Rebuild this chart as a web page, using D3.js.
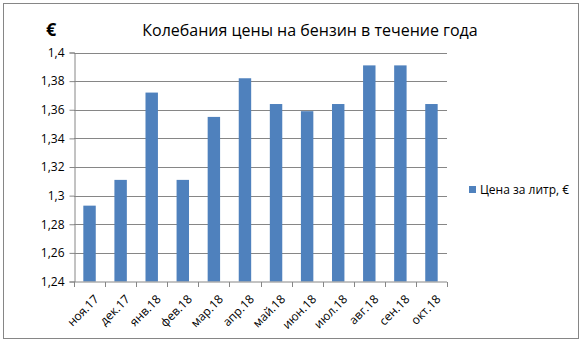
<!DOCTYPE html>
<html>
<head>
<meta charset="utf-8">
<script src="https://cdn.jsdelivr.net/npm/d3@7"></script>
<style>
  body { margin: 0; background: #fff; }
  text { font-family: "Open Sans", "Liberation Sans", sans-serif; fill: #000; }
</style>
</head>
<body>
<div id="chart"></div>
<script>
var width = 582,
    height = 342;

// data
var months = ["ноя.17", "дек.17", "янв.18", "фев.18", "мар.18", "апр.18",
              "май.18", "июн.18", "июл.18", "авг.18", "сен.18", "окт.18"];
var prices = [1.293, 1.311, 1.372, 1.311, 1.355, 1.382,
              1.364, 1.359, 1.364, 1.391, 1.391, 1.364];
var yTicks = [1.24, 1.26, 1.28, 1.3, 1.32, 1.34, 1.36, 1.38, 1.4];
var seriesName = "Цена за литр, €";
var title = "Колебания цены на бензин в течение года";

var plot = {left: 74, right: 447, top: 52.5, bottom: 281.5};

var svg = d3.select("#chart").append("svg")
  .attr("width", width)
  .attr("height", height);

// outer frame
svg.append("rect")
  .attr("x", 3.5).attr("y", 3.5)
  .attr("width", 575).attr("height", 335)
  .attr("fill", "#fff")
  .attr("stroke", "#868686");

var xScale = d3.scaleBand()
  .domain(months)
  .range([plot.left, plot.right])
  .paddingInner(0.6)
  .paddingOuter(0.3);

var yScale = d3.scaleLinear()
  .domain([1.24, 1.4])
  .range([plot.bottom, plot.top]);

var fmt = function(d) { return String(d).replace(".", ","); };

//gridlines
svg.append("g")
  .selectAll("line")
  .data(yTicks.slice(1))
  .enter().append("line")
    .attr("x1", plot.left).attr("x2", plot.right)
    .attr("y1", function(d) { return Math.round(yScale(d)) + 0.5; })
    .attr("y2", function(d) { return Math.round(yScale(d)) + 0.5; })
    .attr("stroke", "#868686");

//bars
svg.append("g")
  .selectAll("rect")
  .data(prices)
  .enter().append("rect")
    .attr("x", function(d, i) { return xScale(months[i]); })
    .attr("y", function(d) { return yScale(d); })
    .attr("width", xScale.bandwidth())
    .attr("height", function(d) { return yScale(1.24) - yScale(d); })
    .attr("fill", "#4F81BD");

//y axis
var yAxis = svg.append("g")
  .attr("transform", "translate(" + (plot.left + 0.5) + ",0)")
  .call(d3.axisLeft(yScale).tickValues(yTicks).tickFormat(fmt).tickSize(5).tickPadding(5));
yAxis.selectAll("path, line").attr("stroke", "#868686");
yAxis.selectAll("text").style("font-size", "12px").style("font-family", "\"Open Sans\", sans-serif").attr("fill", "#000");

//x axis with ticks at band boundaries
var xAxisG = svg.append("g")
  .attr("transform", "translate(0," + (plot.bottom + 0.5) + ")");
xAxisG.append("line")
  .attr("x1", plot.left).attr("x2", plot.right)
  .attr("stroke", "#868686");
var bounds = d3.range(months.length + 1).map(function(i) { return plot.left + i * (plot.right - plot.left) / months.length; });
xAxisG.selectAll(".tk")
  .data(bounds)
  .enter().append("line")
    .attr("class", "tk")
    .attr("x1", function(d) { return Math.round(d) + 0.5; })
    .attr("x2", function(d) { return Math.round(d) + 0.5; })
    .attr("y1", 0).attr("y2", 5)
    .attr("stroke", "#868686");
xAxisG.selectAll(".lbl")
  .data(months)
  .enter().append("text")
    .attr("class", "lbl")
    .attr("text-anchor", "end")
    .style("font-size", "12px")
    .attr("transform", function(d) {
      return "translate(" + (xScale(d) + xScale.bandwidth() / 2 + 10) + ",18) rotate(-45)";
    })
    .text(function(d) { return d; });

//title
svg.append("text")
  .attr("x", 310).attr("y", 36)
  .attr("text-anchor", "middle")
  .style("font-size", "16px")
  .text(title);

svg.append("text")
  .attr("x", 46).attr("y", 36)
  .style("font-size", "18px")
  .style("font-weight", "bold")
  .text("€");

//legend
svg.append("rect")
  .attr("x", 469).attr("y", 186)
  .attr("width", 7).attr("height", 7)
  .attr("fill", "#4F81BD");
svg.append("text")
  .attr("x", 480).attr("y", 193.5)
  .style("font-size", "12px")
  .text(seriesName);
</script>
</body>
</html>
